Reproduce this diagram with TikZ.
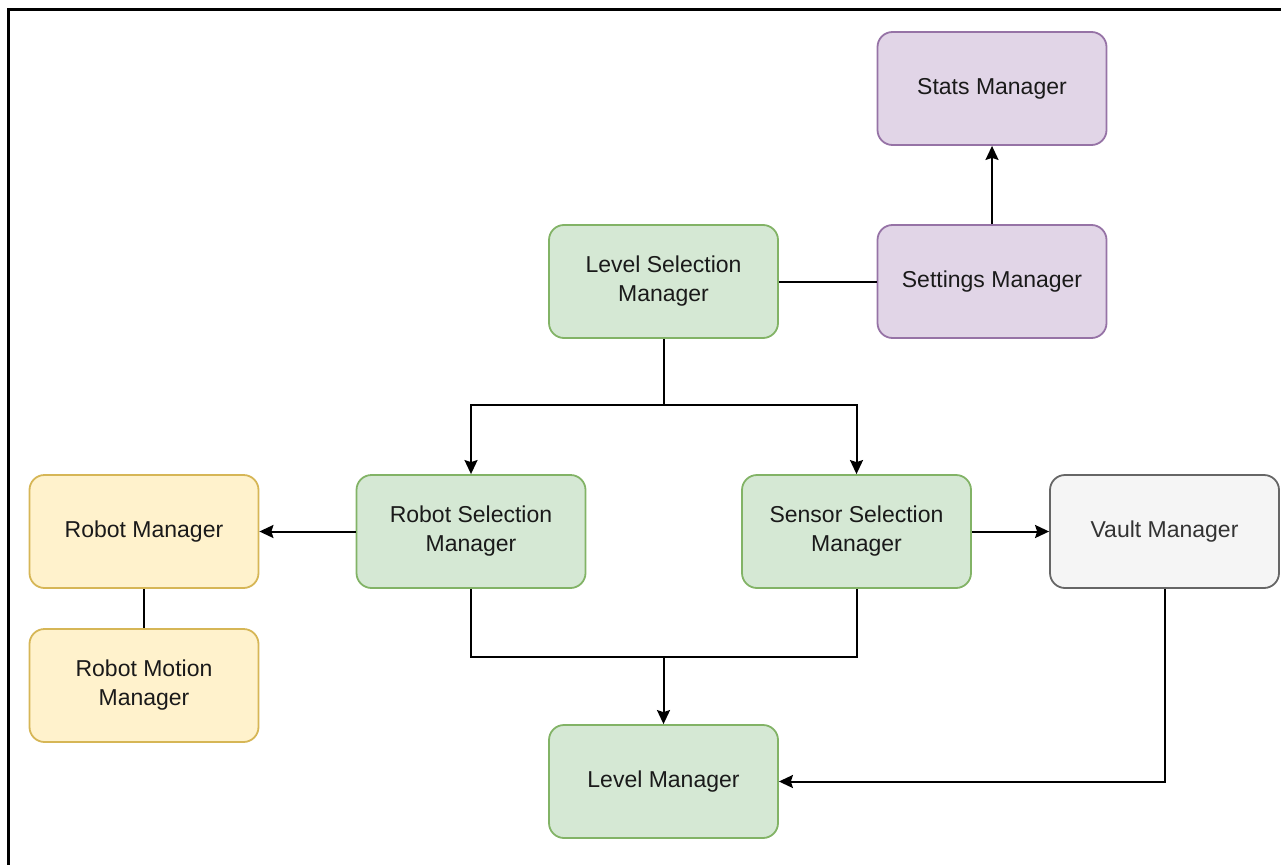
\documentclass[tikz,border=0pt]{standalone}
\usepackage{fontspec}
\setmainfont{Liberation Sans}
\usetikzlibrary{arrows.meta}
\definecolor{gfill}{HTML}{D5E8D4}\definecolor{gline}{HTML}{82B366}
\definecolor{pfill}{HTML}{E1D5E7}\definecolor{pline}{HTML}{9673A6}
\definecolor{yfill}{HTML}{FFF2CC}\definecolor{yline}{HTML}{D6B656}
\definecolor{wfill}{HTML}{F5F5F5}\definecolor{wline}{HTML}{666666}
\definecolor{wtext}{HTML}{333333}\definecolor{btext}{HTML}{1A1A1A}
\begin{document}
\begin{tikzpicture}[x=1pt,y=-1pt,
  box/.style={rectangle, rounded corners=15pt, line width=1.8pt, minimum width=229pt, minimum height=113pt,
    align=center, font=\fontsize{23}{29}\selectfont, text=btext, inner sep=0pt},
  green/.style={box, fill=gfill, draw=gline},
  purple/.style={box, fill=pfill, draw=pline},
  yellow/.style={box, fill=yfill, draw=yline},
  grey/.style={box, fill=wfill, draw=wline, text=wtext},
  conn/.style={line width=2pt, black},
  arr/.style={conn, -{Stealth[length=14pt,width=13pt,inset=2pt]}}]
\useasboundingbox (0,0) rectangle (1281,864);
\draw[line width=3pt, line cap=rect] (1285,10) -- (8.5,10) -- (8.5,870);

\node[purple] (stats) at (992,88.5) {Stats Manager};
\node[purple] (settings) at (992,281.5) {Settings Manager};
\node[green] (lsel) at (663.5,281.5) {Level Selection\\Manager};
\node[green] (rsel) at (471,531.5) {Robot Selection\\Manager};
\node[green] (ssel) at (856.5,531.5) {Sensor Selection\\Manager};
\node[grey] (vault) at (1164.5,531.5) {Vault Manager};
\node[yellow] (rmgr) at (144,531.5) {Robot Manager};
\node[yellow] (rmot) at (144,685.5) {Robot Motion\\Manager};
\node[green] (lmgr) at (663.5,781.5) {Level Manager};

\coordinate (split) at (663.5,405);
\coordinate (join) at (663.5,657);

\draw[arr] (settings) -- (stats);
\draw[conn] (lsel) -- (settings);
\draw[conn] (lsel.south) -- (split);
\draw[arr] (split) -| (rsel.north);
\draw[arr] (split) -| (ssel.north);
\draw[arr] (rsel) -- (rmgr);
\draw[arr] (ssel) -- (vault);
\draw[conn] (rmgr) -- (rmot);
\draw[conn] (rsel.south) |- (join);
\draw[conn] (ssel.south) |- (join);
\draw[arr] (join) -- (lmgr.north);
\draw[arr] (vault.south) |- (lmgr.east);
\end{tikzpicture}
\end{document}
